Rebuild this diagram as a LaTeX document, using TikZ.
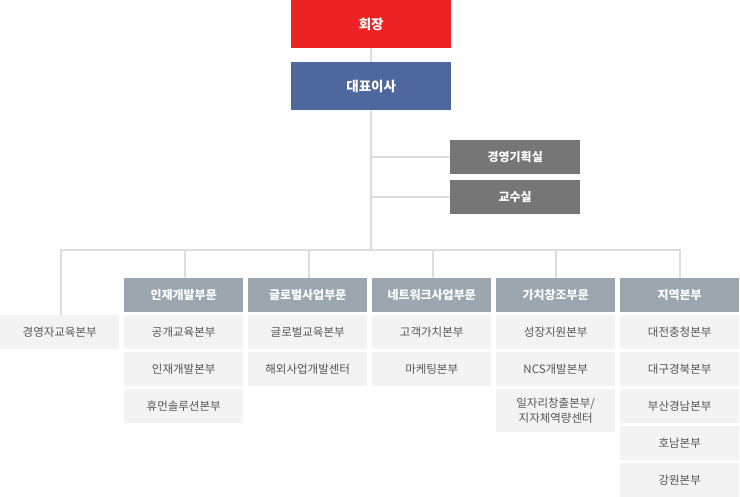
\documentclass[tikz,border=0pt]{standalone}
\usepackage{fontspec}
\setmainfont{Noto Sans CJK KR}
\definecolor{cred}{HTML}{EC2224}
\definecolor{cblue}{HTML}{4E689E}
\definecolor{cdark}{HTML}{767676}
\definecolor{chead}{HTML}{9BA6AF}
\definecolor{csub}{HTML}{F3F3F3}
\definecolor{cline}{HTML}{DDDDDD}
\definecolor{ctext}{HTML}{555555}
\begin{document}
\begin{tikzpicture}[x=1pt,y=-1pt,
  box/.style={inner sep=0pt,align=center,anchor=north west},
  topbox/.style={box,minimum width=160pt,minimum height=48pt,text=white,font=\fontsize{13.5}{16}\selectfont\bfseries},
  staff/.style={box,fill=cdark,minimum width=130pt,minimum height=34pt,text=white,font=\fontsize{12}{14}\selectfont\bfseries},
  head/.style={box,fill=chead,minimum width=119pt,minimum height=34pt,text=white,font=\fontsize{12}{14}\selectfont\bfseries},
  sub/.style={box,fill=csub,minimum width=119pt,minimum height=34pt,text=ctext,font=\fontsize{11.5}{14}\selectfont},
  conn/.style={draw=cline,line width=2pt}]
\useasboundingbox (0,0) rectangle (740,497);
% top
\node[topbox,fill=cred] (chair) at (291,0) {회장};
\node[topbox,fill=cblue] (ceo) at (291,62) {대표이사};
\node[staff] (plan) at (450,140) {경영기획실};
\node[staff] (prof) at (450,180) {교수실};
% bus point
\coordinate (bus) at (371,250);
% left box
\node[sub] (edu) at (0,315) {경영자교육본부};
% departments
\node[head] (d1) at (124,278) {인재개발부문};
\node[head] (d2) at (248,278) {글로벌사업부문};
\node[head] (d3) at (372,278) {네트워크사업부문};
\node[head] (d4) at (496,278) {가치창조부문};
\node[head] (d5) at (620,278) {지역본부};
% d1
\node[sub] (d1a) at (124,315) {공개교육본부};
\node[sub] (d1b) at (124,352) {인재개발본부};
\node[sub] (d1c) at (124,389) {휴먼솔루션본부};
% d2
\node[sub] (d2a) at (248,315) {글로벌교육본부};
\node[sub] (d2b) at (248,352) {해외사업개발센터};
% d3
\node[sub] (d3a) at (372,315) {고객가치본부};
\node[sub] (d3b) at (372,352) {마케팅본부};
% d4
\node[sub] (d4a) at (496,315) {성장지원본부};
\node[sub] (d4b) at (496,352) {NCS개발본부};
\node[sub,minimum height=43pt,font=\fontsize{11.5}{14.5}\selectfont] (d4c) at (496,389) {일자리창출본부/\\지자체역량센터};
% d5
\node[sub] (d5a) at (620,315) {대전충청본부};
\node[sub] (d5b) at (620,352) {대구경북본부};
\node[sub] (d5c) at (620,389) {부산경남본부};
\node[sub] (d5d) at (620,426) {호남본부};
\node[sub] (d5e) at (620,463) {강원본부};
% connectors
\draw[conn] (chair.south) -- (ceo.north);
\draw[conn] (ceo.south) -- (bus);
\draw[conn] (plan.west) -- (plan.west -| bus);
\draw[conn] (prof.west) -- (prof.west -| bus);
\draw[conn] ([xshift=1.5pt]edu.north) |- (bus);
\draw[conn] ([xshift=1pt]d1.north) |- (bus);
\draw[conn] ([xshift=1pt]d2.north) |- (bus);
\draw[conn] ([xshift=1pt]d3.north) |- (bus);
\draw[conn] ([xshift=0.5pt]d4.north) |- (bus);
\draw[conn] (d5.north) |- (bus);
\end{tikzpicture}
\end{document}
